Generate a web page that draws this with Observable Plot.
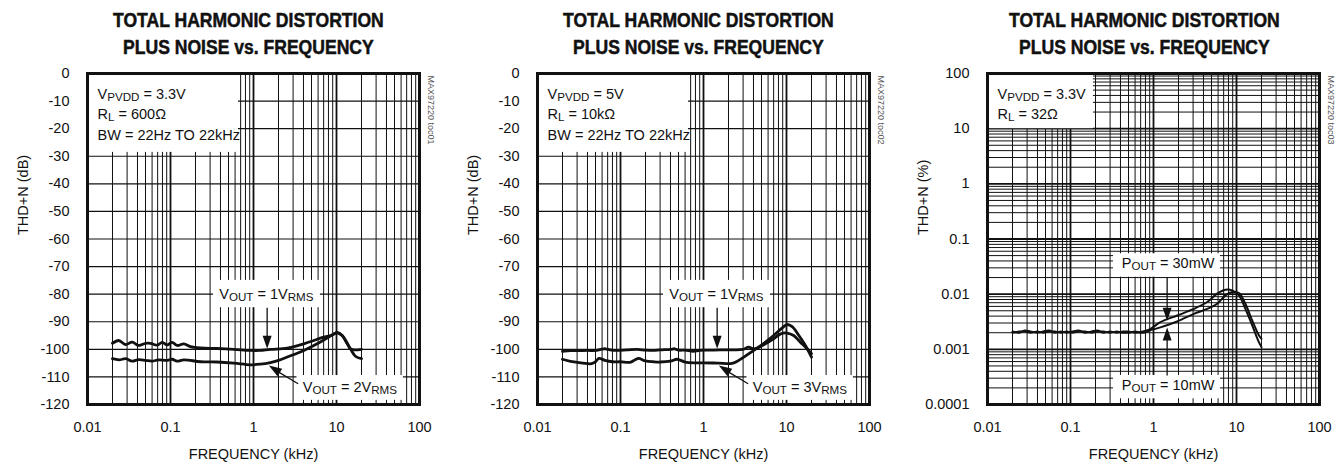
<!DOCTYPE html>
<html><head><meta charset="utf-8">
<script src="https://cdn.jsdelivr.net/npm/d3@7"></script>
<script src="https://cdn.jsdelivr.net/npm/@observablehq/plot@0.6"></script>
<style>
body{margin:0;background:#fff;width:1343px;height:466px;overflow:hidden;}
#row{display:flex;}
.panel{flex:none;}
.title{height:62px;box-sizing:border-box;padding-top:7px;padding-left:46px;text-align:center;white-space:nowrap;}
.title span{display:inline-block;transform:scaleX(0.9);transform-origin:center;font-family:"Liberation Sans",Arial,sans-serif;font-weight:bold;font-size:19.5px;line-height:27px;color:#111;-webkit-text-stroke:0.5px #111;}
</style></head><body><div id="row"></div>
<script>
const FONT = '"Liberation Sans",Arial,sans-serif';
const FS = 14.5;

// ---------- shared ----------
const titleLines = ["TOTAL HARMONIC DISTORTION", "PLUS NOISE vs. FREQUENCY"];
const xTicks = [0.01, 0.1, 1, 10, 100];
const xTickLabels = ["0.01", "0.1", "1", "10", "100"];
const dbTicks = [0, -10, -20, -30, -40, -50, -60, -70, -80, -90, -100, -110, -120];
const dbTickLabels = ["0", "-10", "-20", "-30", "-40", "-50", "-60", "-70", "-80", "-90", "-100", "-110", "-120"];
const pctTicks = [100, 10, 1, 0.1, 0.01, 0.001, 0.0001];
const pctTickLabels = ["100", "10", "1", "0.1", "0.01", "0.001", "0.0001"];

// ---------- panel 1 : VPVDD = 3.3V, RL = 600 ohm ----------
const p1Freq1V = [0.02, 0.0238, 0.0287, 0.0345, 0.0415, 0.05, 0.0574, 0.0691, 0.0794, 0.0912, 0.1047, 0.1203, 0.1447, 0.174, 0.23, 0.365, 0.58, 0.92, 1.2, 1.6, 2.55, 4.04, 5.33, 7.0, 8.5, 10.2, 11.7, 13.5, 15, 20];
const p1Thd1V  = [-97.8, -96.8, -98.3, -97.4, -98.6, -97.8, -97.8, -98.5, -97.5, -98.4, -97.5, -98.6, -98.0, -99.0, -99.5, -99.7, -100.0, -100.4, -100.4, -100.0, -99.6, -98.0, -96.8, -95.6, -95.0, -94.0, -95.0, -98.0, -100.0, -100.0];
const p1Freq2V = [0.02, 0.024, 0.029, 0.0345, 0.0415, 0.05, 0.06, 0.072, 0.0912, 0.105, 0.12, 0.145, 0.23, 0.365, 0.58, 0.92, 1.2, 1.6, 2.0, 2.55, 4.04, 5.85, 7.7, 9.3, 10.2, 11.7, 14.7, 16.9, 20];
const p1Thd2V  = [-103.4, -103.8, -103.4, -104.3, -103.7, -104.0, -104.3, -103.8, -104.0, -103.6, -104.3, -103.8, -104.5, -104.6, -105.0, -105.6, -105.4, -104.8, -104.0, -102.8, -100.4, -98.0, -95.9, -94.4, -93.9, -95.0, -99.8, -102.5, -103.4];

// ---------- panel 2 : VPVDD = 5V, RL = 10k ohm ----------
const p2Freq1V = [0.02, 0.025, 0.03, 0.04, 0.05, 0.058, 0.066, 0.075, 0.09, 0.12, 0.16, 0.2, 0.25, 0.3, 0.4, 0.45, 0.5, 0.6, 0.75, 0.9, 1.2, 1.6, 2.32, 3.0, 3.5, 4.04, 5.33, 7.0, 8.5, 10.2, 12.2, 14.7, 17.7, 20];
const p2Thd1V  = [-100.7, -100.5, -100.5, -100.4, -100.4, -100.0, -99.8, -100.2, -100.4, -100.2, -100.0, -100.3, -100.4, -100.2, -100.0, -99.8, -100.3, -100.3, -100.7, -100.4, -100.3, -100.2, -100.2, -100.0, -99.2, -99.8, -98.3, -96.2, -94.4, -94.1, -95.0, -97.4, -99.8, -101.6];
const p2Freq3V = [0.02, 0.025, 0.035, 0.045, 0.05, 0.055, 0.065, 0.08, 0.1, 0.13, 0.15, 0.165, 0.2, 0.25, 0.3, 0.4, 0.48, 0.6, 0.8, 1.0, 1.5, 2.2, 2.55, 3.06, 4.04, 5.33, 7.0, 8.9, 10.2, 11.7, 14.1, 16.9, 20];
const p2Thd3V  = [-103.6, -104.4, -105.0, -105.2, -104.5, -103.3, -104.0, -104.5, -104.5, -104.7, -103.8, -103.3, -104.2, -104.5, -104.6, -104.3, -103.6, -104.6, -104.9, -104.9, -105.0, -105.1, -104.3, -102.8, -100.4, -97.8, -95.0, -92.2, -91.0, -91.8, -95.0, -98.6, -102.8];

// ---------- panel 3 : VPVDD = 3.3V, RL = 32 ohm (THD+N in %) ----------
const p3Freq30 = [0.02, 0.024, 0.028, 0.033, 0.04, 0.047, 0.055, 0.065, 0.077, 0.09, 0.105, 0.125, 0.15, 0.18, 0.21, 0.25, 0.3, 0.36, 0.43, 0.5, 0.6, 0.75, 0.9, 1.21, 1.93, 3.06, 4.43, 5.85, 7.37, 8.87, 10.7, 12.8, 15.5, 18.6, 20];
const p3Thd30  = [0.0021, 0.0020, 0.0022, 0.0021, 0.0020, 0.0021, 0.0022, 0.0020, 0.0021, 0.0020, 0.0021, 0.0022, 0.0020, 0.0021, 0.0022, 0.0020, 0.0021, 0.0020, 0.0021, 0.0021, 0.0020, 0.0021, 0.0023, 0.0031, 0.0041, 0.0054, 0.0072, 0.0102, 0.0120, 0.0117, 0.0095, 0.0054, 0.0027, 0.00135, 0.0011];
const p3Freq10 = [0.02, 0.024, 0.028, 0.033, 0.04, 0.047, 0.055, 0.065, 0.077, 0.09, 0.105, 0.125, 0.15, 0.18, 0.21, 0.25, 0.3, 0.36, 0.43, 0.5, 0.6, 0.75, 0.9, 1.21, 1.93, 3.06, 4.43, 5.85, 7.37, 8.87, 10.7, 12.8, 15.5, 18.6, 20];
const p3Thd10  = [0.0020, 0.0021, 0.0021, 0.0020, 0.0021, 0.0020, 0.0021, 0.0021, 0.0020, 0.0021, 0.0020, 0.0021, 0.0021, 0.0020, 0.0021, 0.0021, 0.0020, 0.0021, 0.0020, 0.0020, 0.0021, 0.0020, 0.0022, 0.0025, 0.0032, 0.0044, 0.0054, 0.0067, 0.0095, 0.0109, 0.0105, 0.0067, 0.0033, 0.0018, 0.00155];

const zipXY = (xs, ys) => xs.map((x, i) => ({x, y: ys[i]}));

function logGrid(lo, hi) {
  const minor = [], major = [];
  for (let e = Math.round(Math.log10(lo)); e < Math.round(Math.log10(hi)); e++) {
    const d = Math.pow(10, e);
    major.push(d);
    for (let k = 2; k <= 9; k++) minor.push(+(d * k).toPrecision(3));
  }
  major.push(hi);
  return {minor, major};
}
const xGrid = logGrid(0.01, 100);

const panels = [
  {
    w: 450, code: "MAX97220 toc01", yLabel: "THD+N (dB)",
    y: {type: "linear", domain: [-120, 0], ticks: dbTicks, labels: dbTickLabels},
    hMajor: dbTicks, hMinor: [],
    series: [zipXY(p1Freq1V, p1Thd1V), zipXY(p1Freq2V, p1Thd2V)], lineW: 2.8,
    info: ["V_{PVDD} = 3.3V", "R_{L} = 600Ω", "BW = 22Hz TO 22kHz"],
    infoBox: {x1: 0.01, x2: 0.66, y1: 0, y2: -28.6},
    boxes: [{x1: 0.33, x2: 6.4, y1: -75, y2: -84.9}, {x1: 3.34, x2: 64, y1: -109.5, y2: -118.5}],
    labels: [{x: 1.43, y: -80, t: "V_{OUT} = 1V_{RMS}"}, {x: 14.5, y: -113.7, t: "V_{OUT} = 2V_{RMS}"}],
    shafts: [{x1: 1.46, y1: -84.9, x2: 1.46, y2: -97}, {x1: 3.45, y1: -112.5, x2: 1.9, y2: -107.8}],
    heads: [{x: 1.46, y: -99.8, r: 180}, {x: 1.53, y: -105.9, r: 302}]
  },
  {
    w: 450, code: "MAX97220 toc02", yLabel: "THD+N (dB)",
    y: {type: "linear", domain: [-120, 0], ticks: dbTicks, labels: dbTickLabels},
    hMajor: dbTicks, hMinor: [],
    series: [zipXY(p2Freq1V, p2Thd1V), zipXY(p2Freq3V, p2Thd3V)], lineW: 2.8,
    info: ["V_{PVDD} = 5V", "R_{L} = 10kΩ", "BW = 22Hz TO 22kHz"],
    infoBox: {x1: 0.01, x2: 0.66, y1: 0, y2: -28.6},
    boxes: [{x1: 0.33, x2: 6.4, y1: -75, y2: -84.9}, {x1: 3.34, x2: 64, y1: -109.5, y2: -118.5}],
    labels: [{x: 1.43, y: -80, t: "V_{OUT} = 1V_{RMS}"}, {x: 14.5, y: -113.7, t: "V_{OUT} = 3V_{RMS}"}],
    shafts: [{x1: 1.46, y1: -84.9, x2: 1.46, y2: -97}, {x1: 3.45, y1: -112.5, x2: 1.9, y2: -107.8}],
    heads: [{x: 1.46, y: -99.8, r: 180}, {x: 1.53, y: -105.9, r: 302}]
  },
  {
    w: 443, code: "MAX97220 toc03", yLabel: "THD+N (%)",
    y: {type: "log", domain: [0.0001, 100], ticks: pctTicks, labels: pctTickLabels},
    hMajor: logGrid(0.0001, 100).major, hMinor: logGrid(0.0001, 100).minor,
    series: [zipXY(p3Freq30, p3Thd30), zipXY(p3Freq10, p3Thd10)], lineW: 2,
    info: ["V_{PVDD} = 3.3V", "R_{L} = 32Ω"],
    infoBox: {x1: 0.01, x2: 0.189, y1: 100, y2: 10},
    boxes: [{x1: 0.33, x2: 6.4, y1: 0.054, y2: 0.0203}, {x1: 0.33, x2: 6.4, y1: 0.000336, y2: 0.000127}],
    labels: [{x: 1.5, y: 0.0355, t: "P_{OUT} = 30mW"}, {x: 1.5, y: 0.000221, t: "P_{OUT} = 10mW"}],
    shafts: [{x1: 1.46, y1: 0.0203, x2: 1.46, y2: 0.005}, {x1: 1.46, y1: 0.000336, x2: 1.46, y2: 0.0015}],
    heads: [{x: 1.46, y: 0.0033, r: 180}, {x: 1.46, y: 0.0025, r: 0}]
  }
];

function applySubs(svg) {
  d3.select(svg).selectAll("text").each(function () {
    const s = this.textContent;
    if (!s.includes("_{")) return;
    const el = d3.select(this);
    el.selectAll("*").remove();
    el.text(null);
    const re = /_\{([^}]*)\}/g;
    const parts = [];
    let last = 0, m;
    while ((m = re.exec(s))) {
      if (m.index > last) parts.push([s.slice(last, m.index), false]);
      parts.push([m[1], true]);
      last = re.lastIndex;
    }
    if (last < s.length) parts.push([s.slice(last), false]);
    let cur = 0;
    for (const [txt, sub] of parts) {
      const ts = el.append("tspan").text(txt);
      const target = sub ? 2 : 0;
      if (target !== cur) { ts.attr("dy", target - cur); cur = target; }
      if (sub) ts.attr("font-size", "0.8em");
    }
  });
}

function makePlot(c) {
  const ml = 87, mr = c.w - 419;
  const marks = [
    Plot.ruleX(xGrid.minor, {stroke: "#111", strokeWidth: 1}),
    Plot.ruleX(xGrid.major, {stroke: "#111", strokeWidth: 1.8}),
    Plot.ruleY(c.hMinor, {stroke: "#111", strokeWidth: 1}),
    Plot.ruleY(c.hMajor, {stroke: "#111", strokeWidth: c.y.type === "log" ? 1.8 : 1.1}),
    Plot.rect([c.infoBox], {x1: "x1", x2: "x2", y1: "y1", y2: "y2", fill: "white"}),
    Plot.rect(c.boxes, {x1: "x1", x2: "x2", y1: "y1", y2: "y2", fill: "white"}),
    ...c.series.map(s => Plot.line(s, {x: "x", y: "y", stroke: "#111", strokeWidth: c.lineW, curve: "catmull-rom", strokeLinejoin: "round"})),
    Plot.link(c.shafts, {x1: "x1", y1: "y1", x2: "x2", y2: "y2", stroke: "#111", strokeWidth: 1.3}),
    Plot.vector(c.heads, {x: "x", y: "y", rotate: "r", length: 13, r: 4.5, shape: "spike", anchor: "end", fill: "#111", stroke: "none"}),
    Plot.text(c.labels, {x: "x", y: "y", text: "t", textAnchor: "middle", lineAnchor: "middle", fontSize: FS, fill: "#111"}),
    ...c.info.map((t, i) => Plot.text([t], {frameAnchor: "top-left", dx: 10, dy: [21, 41, 62][i], textAnchor: "start", lineAnchor: "middle", fontSize: FS, fill: "#111"})),
    Plot.frame({stroke: "#111", strokeWidth: 3}),
    Plot.text([c.code], {frameAnchor: "top-right", dx: 11, dy: 2, rotate: 90, textAnchor: "start", lineAnchor: "middle", fontSize: 9, fill: "#555"}),
    Plot.text(["FREQUENCY (kHz)"], {frameAnchor: "bottom", dy: 50, lineAnchor: "middle", fontSize: FS, fill: "#111"}),
    Plot.text([c.yLabel], {frameAnchor: "left", dx: -64, dy: -4, rotate: -90, lineAnchor: "middle", fontSize: FS, fill: "#111"})
  ];
  const svg = Plot.plot({
    width: c.w, height: 404,
    marginLeft: ml, marginRight: mr, marginTop: 11, marginBottom: 62,
    style: {fontFamily: FONT, fontSize: FS + "px", color: "#111", background: "white"},
    x: {type: "log", domain: [0.01, 100], ticks: xTicks, tickFormat: d => xTickLabels[xTicks.indexOf(d)], tickSize: 0, tickPadding: 17, label: null},
    y: {type: c.y.type, domain: c.y.domain, ticks: c.y.ticks, tickFormat: d => c.y.labels[c.y.ticks.indexOf(d)], tickSize: 0, tickPadding: 18, label: null},
    marks
  });
  applySubs(svg);
  return svg;
}

const row = document.getElementById("row");
for (const c of panels) {
  const div = document.createElement("div");
  div.className = "panel";
  div.style.width = c.w + "px";
  const t = document.createElement("div");
  t.className = "title";
  t.innerHTML = "<span>" + titleLines.join("<br>") + "</span>";
  div.append(t, makePlot(c));
  row.append(div);
}
</script></body></html>
